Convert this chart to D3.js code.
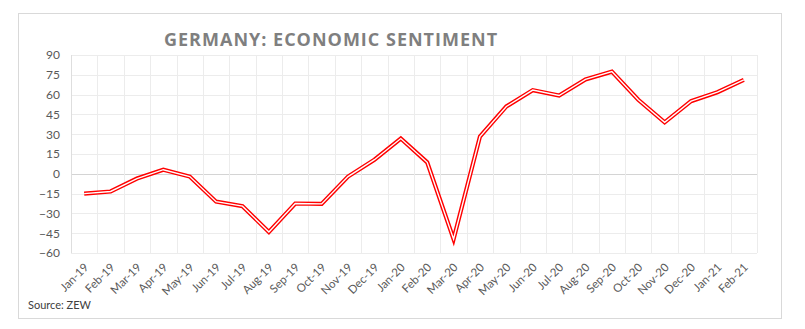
<!DOCTYPE html>
<html>
<head>
<meta charset="utf-8">
<script src="https://cdn.jsdelivr.net/npm/d3@7"></script>
<style>
  html, body { margin: 0; padding: 0; background: #fff; }
  svg { display: block; }
</style>
</head>
<body>
<svg id="chart" width="805" height="329"></svg>
<script>
// ZEW economic sentiment, Germany, monthly
const months = ["Jan-19","Feb-19","Mar-19","Apr-19","May-19","Jun-19","Jul-19","Aug-19","Sep-19","Oct-19","Nov-19","Dec-19",
                "Jan-20","Feb-20","Mar-20","Apr-20","May-20","Jun-20","Jul-20","Aug-20","Sep-20","Oct-20","Nov-20","Dec-20",
                "Jan-21","Feb-21"];
const sentiment = [-15.0, -13.4, -3.6, 3.1, -2.1, -21.1, -24.5, -44.1, -22.5, -22.8, -2.1, 10.7,
                   26.7, 8.7, -49.5, 28.2, 51.0, 63.4, 59.3, 71.5, 77.4, 56.1, 39.0, 55.0,
                   61.8, 71.2];
const yTicks = [-60, -45, -30, -15, 0, 15, 30, 45, 60, 75, 90];
const title = "GERMANY: ECONOMIC SENTIMENT";
const source = "Source: ZEW";

const svg = d3.select("#chart");
const plot = { left: 71, right: 757, top: 55, bottom: 253 };

// frame around the chart
svg.append("rect")
  .attr("x", 18.5).attr("y", 13.5)
  .attr("width", 763).attr("height", 305)
  .attr("fill", "#fff").attr("stroke", "#d9d9d9").attr("stroke-width", 1);

const x = d3.scaleBand().domain(months).range([plot.left, plot.right]);
const y = d3.scaleLinear().domain([-60, 90]).range([plot.bottom, plot.top]);

// horizontal gridlines
svg.append("g").selectAll("line").data(yTicks).join("line")
  .attr("x1", plot.left).attr("x2", plot.right)
  .attr("y1", d => Math.round(y(d)) + 0.5).attr("y2", d => Math.round(y(d)) + 0.5)
  .attr("stroke", d => d === 0 ? "#d4d4d4" : "#ececec").attr("stroke-width", 1);

// vertical gridlines at the category boundaries
const edges = months.map(m => x(m)).concat([plot.right]);
svg.append("g").selectAll("line").data(edges).join("line")
  .attr("x1", d => Math.round(d) + 0.5).attr("x2", d => Math.round(d) + 0.5)
  .attr("y1", plot.top).attr("y2", plot.bottom)
  .attr("stroke", (d, i) => i === 0 ? "#dedede" : "#ececec").attr("stroke-width", 1);

// y axis labels
const yAxis = d3.axisLeft(y).tickValues(yTicks).tickSize(0).tickPadding(11);
svg.append("g").attr("transform", `translate(${plot.left},0)`).call(yAxis)
  .call(g => g.select(".domain").remove())
  .call(g => g.selectAll("text")
    .attr("font-family", "Lato, 'Open Sans', sans-serif")
    .attr("font-size", 12).attr("fill", "#595959"));

// x axis labels, rotated
const xAxis = d3.axisBottom(x).tickSize(0).tickPadding(0);
svg.append("g").attr("transform", `translate(0,${plot.bottom})`).call(xAxis)
  .call(g => g.select(".domain").remove())
  .call(g => g.selectAll("text")
    .attr("font-family", "Lato, 'Open Sans', sans-serif")
    .attr("font-size", 11.5).attr("fill", "#595959")
    .attr("text-anchor", "end")
    .attr("dy", 0)
    .attr("transform", "translate(5,15) rotate(-45)"));

// double red line: wide red stroke with a thin white core
const line = d3.line()
  .x((d, i) => x(months[i]) + x.bandwidth() / 2)
  .y(d => y(d));

svg.append("path").datum(sentiment)
  .attr("d", line).attr("fill", "none")
  .attr("stroke", "#ff0000").attr("stroke-width", 4.2)
  .attr("stroke-linejoin", "miter").attr("stroke-miterlimit", 10);
svg.append("path").datum(sentiment)
  .attr("d", line).attr("fill", "none")
  .attr("stroke", "#ffffff").attr("stroke-width", 1.4)
  .attr("stroke-linejoin", "miter").attr("stroke-miterlimit", 10);

// title
svg.append("text")
  .attr("x", 164).attr("y", 46)
  .attr("font-family", "'Open Sans', sans-serif")
  .attr("font-weight", 700).attr("font-size", 18)
  .attr("letter-spacing", 1.0)
  .attr("fill", "#7f7f7f")
  .text(title);

// source note
svg.append("text")
  .attr("x", 28).attr("y", 309)
  .attr("font-family", "Lato, 'Open Sans', sans-serif")
  .attr("font-size", 11).attr("fill", "#404040")
  .text(source);
</script>
</body>
</html>
